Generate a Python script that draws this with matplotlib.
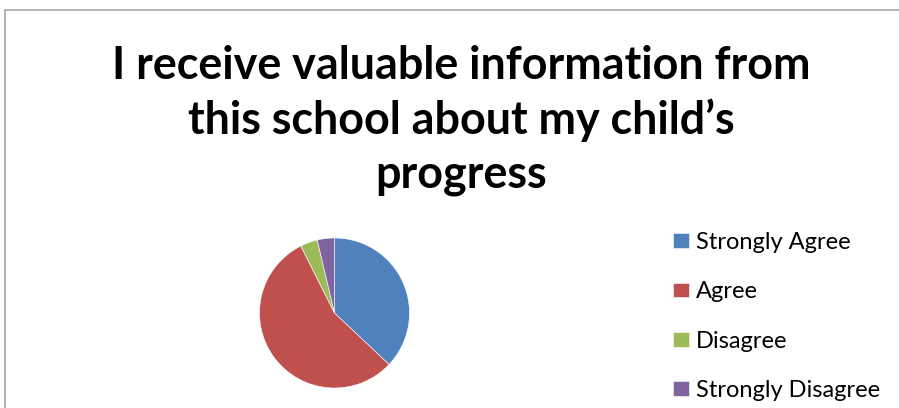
import matplotlib.pyplot as plt
from matplotlib.patches import Rectangle

title_lines = ["I receive valuable information from",
               "this school about my child\u2019s",
               "progress"]
labels = ["Strongly Agree", "Agree", "Disagree", "Strongly Disagree"]
counts = [10, 15, 1, 1]
colors = ["#4F81BD", "#C0504D", "#9BBB59", "#8064A2"]

W, H = 899, 408
fig = plt.figure(figsize=(W / 100, H / 100), dpi=100)
plt.rcParams["font.family"] = ["Lato", "DejaVu Sans"]

# chart border (cut off at the right and bottom)
fig.patches.append(Rectangle((5 / W, -0.1), 1.2, (H - 10) / H + 0.1,
                             transform=fig.transFigure, fill=False,
                             edgecolor="#a6a6a6", linewidth=1.2))

# title
baselines = [79, 134, 188]
for line, yb in zip(title_lines, baselines):
    fig.text(461 / W, 1 - yb / H, line, ha="center", va="baseline",
             fontsize=32.3, fontweight="bold", color="black")

# pie
cx, cy, r = 334.5, 313, 75
ax = fig.add_axes([(cx - r) / W, 1 - (cy + r) / H, 2 * r / W, 2 * r / H])
wedges, _ = ax.pie(counts, colors=colors, startangle=90, counterclock=False,
                   wedgeprops=dict(edgecolor="white", linewidth=0.4))
ax.set_xlim(-1, 1)
ax.set_ylim(-1, 1)
ax.set_aspect("equal")

fig.legend(wedges, labels, loc="upper left", bbox_to_anchor=(673 / W, 1 - 232 / H),
           frameon=False, fontsize=17, handlelength=0.68, handleheight=0.59,
           handletextpad=0.3, labelspacing=1.2, borderpad=0, borderaxespad=0)

fig.savefig("out.png", dpi=100)
